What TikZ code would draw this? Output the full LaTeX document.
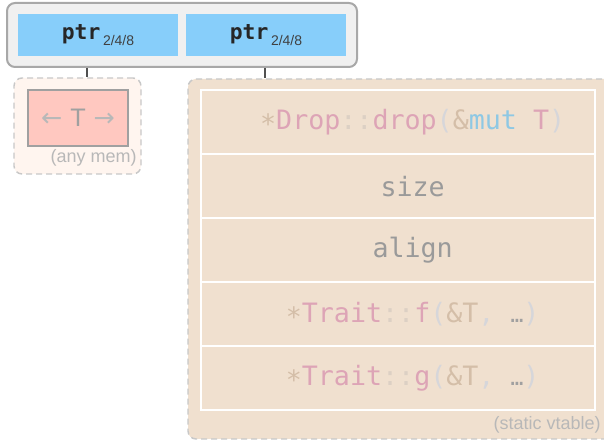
\documentclass[tikz,border=0pt]{standalone}
\usepackage{fontspec}
\setmainfont{Liberation Sans}
\setmonofont{DejaVu Sans Mono}
\newfontfamily\arrowfont{DejaVu Sans}
\usetikzlibrary{positioning}

\definecolor{framegray}{HTML}{A8A8A8}
\definecolor{framefill}{HTML}{F0F0F0}
\definecolor{ptrblue}{HTML}{87CEFA}
\definecolor{dashgray}{HTML}{C8C8C8}
\definecolor{memfill}{HTML}{FFF5EF}
\definecolor{tfill}{HTML}{FFC8C0}
\definecolor{tline}{HTML}{A0A0A0}
\definecolor{vtfill}{HTML}{F0E0CF}
\definecolor{linkgray}{HTML}{505050}
\definecolor{notegray}{HTML}{B8B8B8}
\definecolor{codetan}{HTML}{D4BEA8}
\definecolor{codepink}{HTML}{DDA4B6}
\definecolor{codecolon}{HTML}{DCD0C4}
\definecolor{codeparen}{HTML}{D6D6DA}
\definecolor{codekey}{HTML}{8EC8E4}
\definecolor{codedots}{HTML}{A0A0A0}
\definecolor{plaingray}{HTML}{9A9A9A}

\newcommand{\ctan}[1]{\textcolor{codetan}{#1}}
\newcommand{\cstar}{\raisebox{-3pt}{\textcolor{codetan}{*}}}
\newcommand{\cpink}[1]{\textcolor{codepink}{#1}}
\newcommand{\ccolon}{\textcolor{codecolon}{::}}
\newcommand{\cparen}[1]{\textcolor{codeparen}{#1}}
\newcommand{\ckey}[1]{\textcolor{codekey}{#1}}
\newcommand{\cellip}{\textcolor{codedots}{\fontsize{16}{16}\selectfont…}}
\newcommand{\subsize}[1]{\raisebox{-5pt}{\rmfamily\mdseries\fontsize{10.5}{10.5}\selectfont\color{black!75}#1}}

\begin{document}
\begin{tikzpicture}[x=0.75pt, y=-0.75pt,
  frame/.style={rectangle, rounded corners=6pt, draw=framegray, line width=1.5pt,
                fill=framefill, minimum width=262.5pt, minimum height=48pt},
  ptrbox/.style={rectangle, fill=ptrblue, inner sep=0pt,
                 minimum width=120pt, minimum height=31.5pt,
                 font=\ttfamily\bfseries\fontsize{16}{16}\selectfont, text=black!85},
  region/.style={rectangle, rounded corners=6pt, draw=dashgray, line width=1.1pt,
                 dash pattern=on 4.5pt off 3pt},
  tbox/.style={rectangle, fill=tfill, draw=tline, line width=1.5pt, inner sep=0pt,
               minimum width=75pt, minimum height=42pt,
               font=\fontsize{19}{19}\selectfont},
  slot/.style={rectangle, draw=white, line width=1.5pt, inner sep=0pt, outer sep=0pt,
               minimum width=295.5pt, minimum height=48pt},
  code/.style={font=\ttfamily\fontsize{20}{20}\selectfont},
  note/.style={font=\fontsize{13.5}{13.5}\selectfont, text=notegray, inner sep=0pt},
  link/.style={draw=linkgray, line width=1.2pt}
]
\useasboundingbox (0,0) rectangle (604,441);
\clip (0,0) rectangle (604,441);

% pointer pair
\node[frame] (pair) at (182,35) {};
\node[ptrbox] (ptrA) at (98,35) {ptr\hspace{2pt}\subsize{2/4/8}};
\node[ptrbox] (ptrB) at (266,35) {ptr\hspace{2pt}\subsize{2/4/8}};

% data, anywhere
\node[region, fill=memfill, minimum width=95.25pt, minimum height=72pt] (mem) at (77.5,126) {};
\node[tbox] (data) at (78,118)
  {\textcolor{tline!75}{\arrowfont←}\hspace{6pt}\textcolor{tline}{T}\hspace{6pt}\textcolor{tline!75}{\arrowfont→}};
\node[note, anchor=east] (memnote) at (137,158) {(any mem)};

% vtable
\node[region, fill=vtfill, minimum width=324pt, minimum height=270pt] (vtable) at (404,259) {};
\node[slot] (drop) at (398,122.5) {};
\node[slot, below=0pt of drop] (size) {};
\node[slot, below=0pt of size] (align) {};
\node[slot, below=0pt of align] (fnf) {};
\node[slot, below=0pt of fnf] (fng) {};

\node[code] (droptxt) at ([xshift=11pt]drop.center)
  {\cstar\cpink{Drop}\ccolon\cpink{drop}\cparen{(}\ctan{\&}\ckey{mut} \cpink{T}\cparen{)}};
\node[code, text=plaingray] (sizetxt) at ([xshift=11pt]size.center) {size};
\node[code, text=plaingray] (aligntxt) at ([xshift=11pt]align.center) {align};
\node[code] (ftxt) at ([xshift=11pt]fnf.center)
  {\cstar\cpink{Trait}\ccolon\cpink{f}\cparen{(}\ctan{\&T}\cparen{,} \cellip\cparen{)}};
\node[code] (gtxt) at ([xshift=11pt]fng.center)
  {\cstar\cpink{Trait}\ccolon\cpink{g}\cparen{(}\ctan{\&T}\cparen{,} \cellip\cparen{)}};
\node[note, anchor=east] (vtnote) at (601,425) {(static vtable)};

\draw[link] (pair.south -| 87,0) -- (mem.north -| 87,0);
\draw[link] (pair.south -| 265,0) -- (vtable.north -| 265,0);
\end{tikzpicture}
\end{document}
